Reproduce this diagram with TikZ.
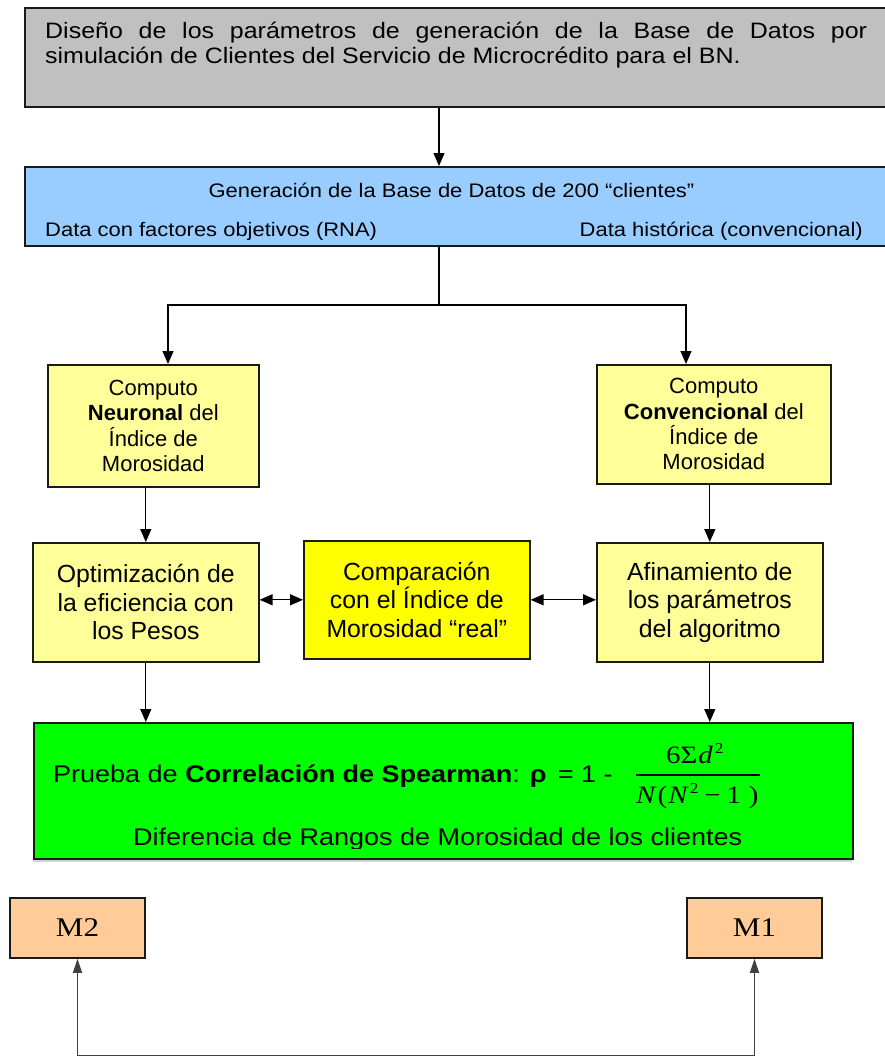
\documentclass[tikz,border=0pt]{standalone}
\usepackage{fontspec}
\setmainfont{Liberation Sans}
\newfontfamily\widesans{Liberation Sans}[FakeStretch=1.12]
\newfontfamily\wideserif{Liberation Serif}[FakeStretch=1.15]
\usetikzlibrary{arrows.meta}

\definecolor{greyfill}{HTML}{C0C0C0}
\definecolor{bluefill}{HTML}{99CCFF}
\definecolor{paleyellow}{HTML}{FFFF99}
\definecolor{brightyellow}{HTML}{FFFF00}
\definecolor{greenfill}{HTML}{00FF00}
\definecolor{peach}{HTML}{FFCC99}
\definecolor{edge}{HTML}{1A1A1A}
\definecolor{shadowline}{HTML}{D4D4D4}

\tikzset{
  box/.style={draw=edge, line width=1.6pt, inner sep=0pt, anchor=north west},
  txt/.style={inner sep=0pt},
  smalltxt/.style={font=\fontsize{22}{25.3}\selectfont, align=center},
  bigtxt/.style={font=\fontsize{24.8}{28.5}\selectfont, align=center},
  conn/.style={draw=black, line width=1.3pt},
  thinconn/.style={draw=black!75, line width=1pt},
}

\begin{document}
\begin{tikzpicture}[x=1pt, y=-1pt, >={Triangle[length=13pt,width=11pt]}]
\useasboundingbox (0,0) rectangle (884,1057);

% title box (runs past the right edge)
\node[box, fill=greyfill, minimum width=876pt, minimum height=99pt] (grey) at (24,7) {};
\node[txt, anchor=base west, text width=822pt, align=justify,
      font=\widesans\fontsize{22.3}{25}\selectfont] (greytxt) at (45,38)
  {\tolerance=10000\hyphenpenalty=10000 Diseño de los parámetros de generación de la Base de Datos por\linebreak simulación de Clientes del Servicio de Microcrédito para el BN.};

% data generation box
\node[box, fill=bluefill, minimum width=876pt, minimum height=79pt] (blue) at (24,166) {};
\begin{scope}
  \clip (24,166) rectangle (884,239.5);
  \begin{scope}[every node/.style={txt, font=\widesans\fontsize{19.6}{22}\selectfont}]
    \node[anchor=base] (btitle) at (451.5,197) {Generación de la Base de Datos de 200 “clientes”};
    \node[anchor=base west] (bleft) at (45,236) {Data con factores objetivos (RNA)};
    \node[anchor=base east] (bright) at (863,236) {Data histórica (convencional)};
  \end{scope}
\end{scope}

% index computation boxes
\node[box, fill=paleyellow, minimum width=211pt, minimum height=122pt, smalltxt] (ca) at (47,364)
  {Computo\\\textbf{Neuronal} del\\Índice de\\Morosidad};
\node[box, fill=paleyellow, minimum width=234pt, minimum height=119pt, smalltxt] (cb) at (596,364)
  {Computo\\\textbf{Convencional} del\\Índice de\\Morosidad};

% tuning and comparison boxes
\node[box, fill=paleyellow, minimum width=226pt, minimum height=119pt, bigtxt] (oa) at (32,542)
  {Optimización de\\la eficiencia con\\los Pesos};
\node[box, fill=brightyellow, minimum width=226pt, minimum height=118pt, bigtxt] (cmp) at (303,540)
  {Comparación\\con el Índice de\\Morosidad “real”};
\node[box, fill=paleyellow, minimum width=226pt, minimum height=119pt, bigtxt] (af) at (596,542)
  {Afinamiento de\\los parámetros\\del algoritmo};

% Spearman test box
\draw[shadowline, line width=1.5pt] (33,861) -- (852,861);
\node[box, fill=greenfill, minimum width=819pt, minimum height=136pt] (sp) at (33,722) {};
\begin{scope}
  \clip (33,722) rectangle (852,848);
  \begin{scope}[every node/.style={txt, font=\widesans\fontsize{24.1}{28}\selectfont}]
    \node[anchor=base west] (sptxt) at (53,782)
      {Prueba de \textbf{Correlación de Spearman}: \textbf{ρ}\hspace{4pt} = 1 - };
    \node[anchor=base west] (spdiff) at (133,845)
      {Diferencia de Rangos de Morosidad de los clientes};
  \end{scope}
\end{scope}
\begin{scope}[every node/.style={txt, font=\wideserif\fontsize{25}{25}\selectfont}]
  \node[anchor=base west] (num) at (666,763)
    {6Σ\kern1pt\textit{d}\kern2pt\raisebox{10pt}{\fontsize{15}{15}\selectfont 2}};
  \node[anchor=base west] (den) at (636,803)
    {\textit{N}\kern1pt(\kern1pt\textit{N}\kern1pt\raisebox{10pt}{\fontsize{15}{15}\selectfont 2}\kern6pt−\kern6pt1\kern8pt)};
\end{scope}
\draw[line width=1.1pt] (636,775) -- (760,775);

% model boxes
\node[box, fill=peach, anchor=center, minimum width=135pt, minimum height=60pt,
      font=\wideserif\fontsize{27}{27}\selectfont] (m2) at (77.5,928) {M2};
\node[box, fill=peach, anchor=center, minimum width=135pt, minimum height=60pt,
      font=\wideserif\fontsize{27}{27}\selectfont] (m1) at (754.5,928) {M1};

% connectors
\coordinate (trunk) at (439,305);
\coordinate (splitL) at (168,305);
\coordinate (splitR) at (686,305);
\draw[conn,->] (grey.south -| trunk) -- (blue.north -| trunk);
\draw[conn] (blue.south -| trunk) -- (trunk);
\draw[conn,->] (trunk) -- (splitL) -- (splitL |- ca.north);
\draw[conn,->] (trunk) -- (splitR) -- (splitR |- cb.north);
\draw[conn,->] (ca.south -| oa.north) -- (oa.north);
\draw[conn,->] (cb.south -| af.north) -- (af.north);
\draw[conn,<->] (oa.east |- cmp.west) -- (cmp.west);
\draw[conn,<->] (cmp.east) -- (af.west |- cmp.east);
\draw[conn,->] (oa.south) -- (oa.south |- sp.north);
\draw[conn,->] (af.south) -- (af.south |- sp.north);

\coordinate (loop) at (77.5,1055);
\draw[thinconn, {Triangle[length=14pt,width=9pt]}-{Triangle[length=14pt,width=9pt]}]
  (m2.south) -- (loop) -| (m1.south);
\end{tikzpicture}
\end{document}
